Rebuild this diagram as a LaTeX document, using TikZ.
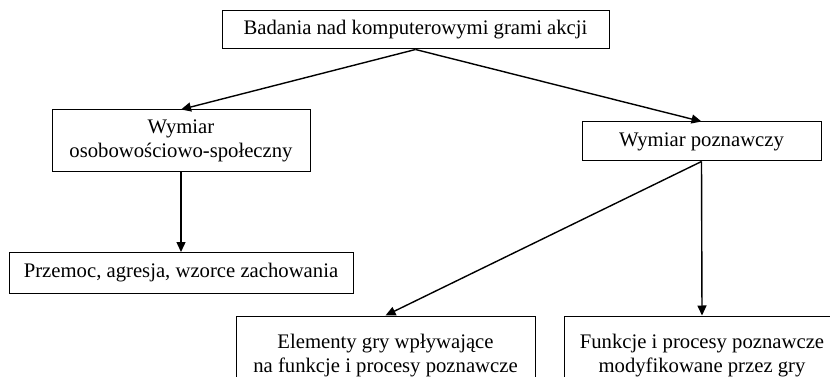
\documentclass[tikz,border=0pt]{standalone}
\usepackage{fontspec}
\setmainfont{Liberation Serif}
\usetikzlibrary{arrows.meta}
\begin{document}
\begin{tikzpicture}[x=1pt,y=-1pt,
  box/.style={draw=black, line width=1pt, inner sep=0pt, align=center,
    font=\fontsize{20.7}{24}\selectfont},
  conn/.style={line width=1.4pt, -{Triangle[length=10pt,width=9pt]}}]
\useasboundingbox (0,0) rectangle (830,377);
\clip (0,0) rectangle (830,377);
\node[box, minimum width=387pt, minimum height=38pt] (top) at (415.5,30) {Badania nad komputerowymi grami akcji};
\node[box, minimum width=258pt, minimum height=61pt] (left) at (181,140.5) {Wymiar\\osobowościowo-społeczny};
\node[box, minimum width=344pt, minimum height=41pt] (prz) at (181,273) {Przemoc, agresja, wzorce zachowania};
\node[box, minimum width=239pt, minimum height=39pt] (pozn) at (701.5,141.5) {Wymiar poznawczy};
\node[box, minimum width=299pt, minimum height=80pt] (elem) at (385.5,356) {Elementy gry wpływające\\na funkcje i procesy poznawcze};
\node[box, minimum width=276pt, minimum height=80pt] (funk) at (702,356) {Funkcje i procesy poznawcze\\modyfikowane przez gry};
\draw[conn] (top.south) -- (left.north);
\draw[conn] (top.south) -- (pozn.north);
\draw[conn] (left.south) -- (prz.north);
\draw[conn] (pozn.south) -- (elem.north);
\draw[conn] (pozn.south) -- (funk.north);
\end{tikzpicture}
\end{document}
